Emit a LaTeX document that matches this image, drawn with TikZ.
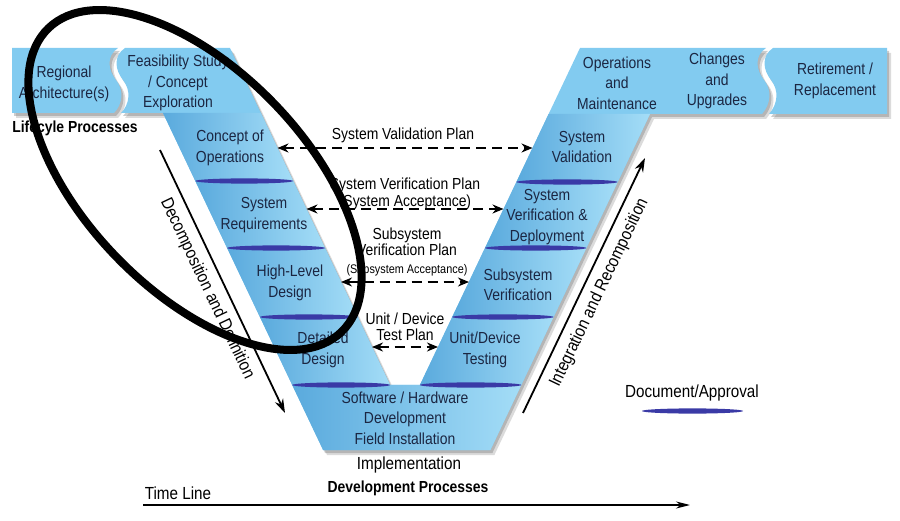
\documentclass[tikz,border=0pt]{standalone}
\usepackage{fontspec}
\setmainfont{Liberation Sans}[FakeStretch=0.87]
\usetikzlibrary{arrows.meta,calc}
\definecolor{vbase}{HTML}{82CBF0}
\definecolor{vdark}{HTML}{5AAADD}
\definecolor{vlight}{HTML}{A4DDF7}
\definecolor{stripec}{HTML}{3A3AA6}
\definecolor{boxtext}{HTML}{1B2642}
\definecolor{shadowc}{HTML}{6E6E6E}
\def\regpath{(12,48) -- (118,48) .. controls (106,56) and (108,70) .. (116,80) .. controls (124,90) and (123,104) .. (114,113) -- (12,113) -- cycle}
\def\vpath{(125,48) .. controls (113,56) and (115,70) .. (123,80) .. controls (131,90) and (130,104) .. (121,113) -- (163,113) -- (323.1,450) -- (490.4,450) -- (650,114) -- (762,114) .. controls (771,104) and (772,90) .. (764,80) .. controls (756,70) and (754,56) .. (766,48) -- (580,48) -- (419.9,385) -- (390.1,385) -- (230,48) -- cycle}
\def\retpath{(773,48) .. controls (761,56) and (763,70) .. (771,80) .. controls (779,90) and (778,104) .. (769,114) -- (887,114) -- (887,48) -- cycle}
\newcommand{\vstripe}[3]{\fill[stripec] ({(#1+#2)/2},#3) ellipse [x radius={(#2-#1)/2}, y radius=2.6];}
\begin{document}
\begin{tikzpicture}[x=1pt,y=-1pt,
  boxtxt/.style={font=\fontsize{16}{20.5}\selectfont, text=boxtext, align=center, inner sep=0pt},
  lbl/.style={font=\fontsize{16}{16.5}\selectfont, align=center, inner sep=0pt},
  biglbl/.style={font=\fontsize{17.5}{19}\selectfont, inner sep=0pt},
  boldlbl/.style={font=\bfseries\fontsize{16}{18}\selectfont, inner sep=0pt},
  section/.style={left color=vdark, right color=vlight},
  planarrow/.style={line width=2.2pt, dash pattern=on 10pt off 6pt, {Stealth[length=11pt,width=9pt]}-{Stealth[length=11pt,width=9pt]}},
  flowarrow/.style={line width=1.8pt, -{Stealth[length=14pt,width=9pt]}},
]
\useasboundingbox (0,0) rectangle (900,521);
% shadows
\fill[shadowc, opacity=0.35, shift={(2,3)}] \regpath;
\fill[shadowc, opacity=0.35, shift={(2,3)}] \vpath;
\fill[shadowc, opacity=0.35, shift={(2,3)}] \retpath;
\fill[shadowc, opacity=0.25, shift={(4,5)}] \regpath;
\fill[shadowc, opacity=0.25, shift={(4,5)}] \vpath;
\fill[shadowc, opacity=0.25, shift={(4,5)}] \retpath;
% shapes
\fill[vbase] \regpath;
\fill[vbase] \vpath;
\fill[vbase] \retpath;
% shaded sections, left arm
\shade[section] (163,113) -- (260.9,113) -- (293.2,181) -- (195.3,181) -- cycle;
\shade[section] (195.3,181) -- (293.2,181) -- (325,248) -- (227.1,248) -- cycle;
\shade[section] (227.1,248) -- (325,248) -- (357.8,317) -- (259.9,317) -- cycle;
\shade[section] (259.9,317) -- (357.8,317) -- (390.1,385) -- (292.2,385) -- cycle;
% bottom
\shade[section] (292.2,385) -- (521.3,385) -- (490.4,450) -- (323.1,450) -- cycle;
% right arm
\shade[section] (548.6,114) -- (650,114) -- (617.7,182) -- (516.4,182) -- cycle;
\shade[section] (516.4,182) -- (617.7,182) -- (586.4,248) -- (485,248) -- cycle;
\shade[section] (485,248) -- (586.4,248) -- (553.6,317) -- (452.2,317) -- cycle;
\shade[section] (452.2,317) -- (553.6,317) -- (521.3,385) -- (419.9,385) -- cycle;
% document / approval stripes
\vstripe{195.3}{293.2}{181}
\vstripe{227.1}{325}{248}
\vstripe{259.9}{357.8}{317}
\vstripe{292.2}{390.1}{385}
\vstripe{516.4}{617.7}{182}
\vstripe{485}{586.4}{248}
\vstripe{452.2}{553.6}{317}
\vstripe{419.9}{521.3}{385}
\vstripe{642}{743}{411}
% box texts
\node[boxtxt] (reg) at (64,84) {Regional\\Architecture(s)};
\node[boxtxt] (feas) at (178,83) {Feasibility Study\\/ Concept\\Exploration};
\node[boxtxt] (conops) at (230,148) {Concept of\\Operations};
\node[boxtxt] (sysreq) at (264,215) {System\\Requirements};
\node[boxtxt] (hld) at (290,283) {High-Level\\Design};
\node[boxtxt] (dd) at (323,350) {Detailed\\Design};
\node[boxtxt] (swhw) at (405,418) {Software / Hardware\\Development\\Field Installation};
\node[boxtxt] (om) at (617,83) {Operations\\and\\Maintenance};
\node[boxtxt] (chg) at (717,81) {Changes\\and\\Upgrades};
\node[boxtxt] (ret) at (835,81) {Retirement /\\Replacement};
\node[boxtxt] (sval) at (582,147) {System\\Validation};
\node[boxtxt] (sver) at (547,217) {System\\Verification \&\\Deployment};
\node[boxtxt] (subver) at (518,285) {Subsystem\\Verification};
\node[boxtxt] (unit) at (485,350) {Unit/Device\\Testing};
% outside labels
\node[boldlbl] (life) at (75,128) {Lifecyle Processes};
\node[biglbl] (impl) at (409,465) {Implementation};
\node[boldlbl] (devproc) at (408,488) {Development Processes};
\node[biglbl] (tl) at (178,493) {Time Line};
\node[biglbl] (docapp) at (692,393) {Document/Approval};
% plan arrows
\coordinate (svL) at (277.5,148); \coordinate (svR) at (532.5,148);
\coordinate (vrL) at (306.5,209); \coordinate (vrR) at (503.5,209);
\coordinate (ssL) at (341,282);   \coordinate (ssR) at (469,282);
\coordinate (udL) at (372,347);   \coordinate (udR) at (438,347);
\node[lbl] (svp) at (403,135) {System Validation Plan};
\node[lbl] (sverp) at (405,194) {System Verification Plan\\(System Acceptance)};
\node[lbl] (subp) at (407,252) {Subsystem\\Verification Plan\\[1pt]{\fontsize{12.5}{13}\selectfont (Subsystem Acceptance)}};
\node[lbl] (utp) at (405,327) {Unit / Device\\Test Plan};
\draw[planarrow] (svL) -- (svR);
\draw[planarrow] (vrL) -- (vrR);
\draw[planarrow] (ssL) -- (ssR);
\draw[planarrow] (udL) -- (udR);
% decomposition / integration
\coordinate (decA) at (160,150); \coordinate (decB) at (285,413);
\draw[flowarrow] (decA) -- node[sloped, below=8pt, biglbl] (declbl) {Decomposition and Definition} (decB);
\coordinate (intA) at (523,413); \coordinate (intB) at (645,158);
\draw[flowarrow] (intA) -- node[sloped, below=8pt, biglbl] (intlbl) {Integration and Recomposition} (intB);
% time line
\coordinate (tlA) at (143,505); \coordinate (tlB) at (690,505);
\draw[line width=1.6pt, -{Stealth[length=14pt,width=7pt]}] (tlA) -- (tlB);
% hand-drawn oval
\draw[line width=8pt, rotate around={-46:(195,180)}] (195,180) ellipse [x radius=211pt, y radius=110pt];
\end{tikzpicture}
\end{document}
